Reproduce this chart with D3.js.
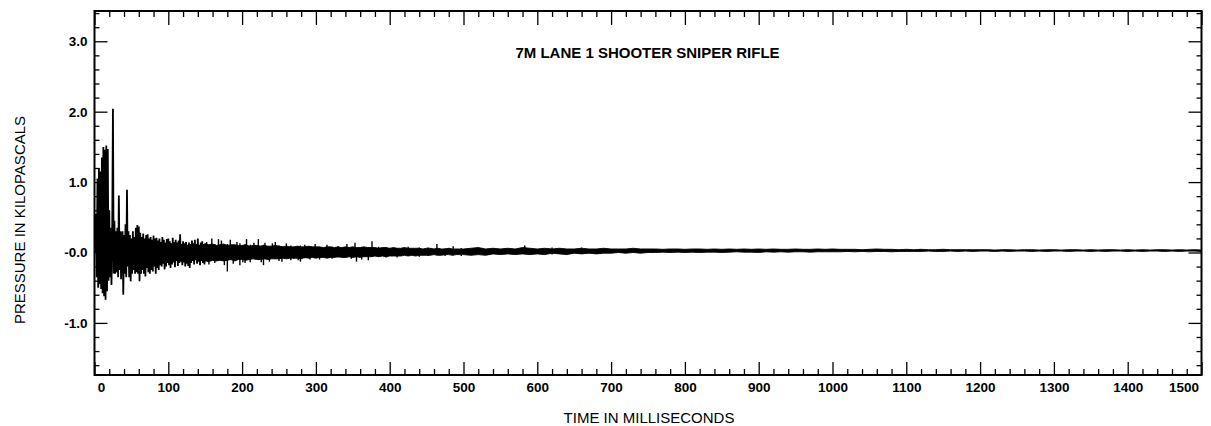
<!DOCTYPE html>
<html>
<head>
<meta charset="utf-8">
<script src="https://cdn.jsdelivr.net/npm/d3@7"></script>
<style>
  html, body { margin: 0; padding: 0; background: #fff; }
  svg { display: block; }
  text { font-family: "Liberation Sans", Arial, sans-serif; fill: #000; }
</style>
</head>
<body>
<svg id="chart" width="1211" height="426"></svg>
<script>
// ---- DATA ----
const chartTitle = "7M LANE 1 SHOOTER SNIPER RIFLE";
const xTitle = "TIME IN MILLISECONDS";
const yTitle = "PRESSURE IN KILOPASCALS";

const xTickValues = [0,100,200,300,400,500,600,700,800,900,1000,1100,1200,1300,1400,1500];
const xTickLabels = ["0","100","200","300","400","500","600","700","800","900","1000","1100","1200","1300","1400","1500"];
const yTickValues = [-1, 0, 1, 2, 3];
const yTickLabels = ["-1.0", "-0.0", "1.0", "2.0", "3.0"];

// early pressure trace (kPa): starts 0 ms, one sample every 1 ms
const traceStart = 0, traceStep = 1;
const traceValues = [
 0.00, 0.04, 0.55,-0.35, 1.05,-0.50, 1.20,-0.45, 1.15,-0.52,
 1.35,-0.58, 1.50,-0.62, 1.46,-0.67, 1.52,-0.55, 1.47,-0.40,
 0.60,-0.35, 0.35,-0.46, 0.30, 2.04,-0.30, 0.45,-0.30, 0.30,
-0.28, 0.35,-0.35, 0.81,-0.25, 0.30,-0.38, 0.25, 0.30,-0.60,
 0.25,-0.30, 0.40,-0.35, 0.89,-0.20, 0.30,-0.35, 0.25,-0.41,
 0.20,-0.30, 0.30,-0.25, 0.22,-0.30, 0.35,-0.28, 0.39,-0.30,
 0.37,-0.41, 0.28,-0.30, 0.22,-0.25, 0.27,-0.30, 0.20,-0.34,
 0.25,-0.22, 0.26,-0.28, 0.20,-0.30, 0.22,-0.25, 0.18,-0.27,
 0.24,-0.20, 0.20,-0.30, 0.21,-0.22, 0.17,-0.25, 0.20,-0.18,
 0.15,-0.20, 0.22,-0.16, 0.18,-0.24, 0.14,-0.20, 0.19,-0.15,
 0.20,-0.18, 0.16,-0.22, 0.13,-0.17, 0.21,-0.14, 0.15,-0.21,
 0.18,-0.12, 0.14,-0.19, 0.17,-0.15, 0.26,-0.13, 0.12,-0.18,
 0.16,-0.14, 0.13,-0.20, 0.15,-0.16, 0.11,-0.19, 0.14,-0.22,
 0.12,-0.15, 0.17,-0.12, 0.13,-0.17, 0.18,-0.11, 0.12,-0.16,
 0.20,-0.13, 0.11,-0.18, 0.14,-0.12, 0.16,-0.15, 0.12,-0.17,
 0.13
];

// later trace, dense core as min/max envelope (kPa): starts 150 ms, one bin every 5 ms
const envBStart = 150, envBStep = 5;
const envBUpper = [
 0.12, 0.11, 0.12, 0.10, 0.11, 0.12, 0.10, 0.11, 0.11, 0.10,
 0.10, 0.11, 0.09, 0.10, 0.10, 0.09, 0.10, 0.09, 0.09, 0.10,
 0.09, 0.08, 0.09, 0.08, 0.08, 0.09, 0.08, 0.08, 0.09, 0.08,
 0.08, 0.08, 0.07, 0.08, 0.08, 0.07, 0.08, 0.07, 0.08, 0.07,
 0.08, 0.07, 0.07, 0.08, 0.07, 0.07, 0.07, 0.06, 0.07, 0.07,
 0.06, 0.07, 0.06, 0.06, 0.07, 0.06, 0.06, 0.06, 0.06, 0.05,
 0.06, 0.06, 0.05, 0.06, 0.05, 0.05, 0.06, 0.05, 0.05, 0.05,
 0.05
];
const envBLower = [
-0.12,-0.13,-0.11,-0.12,-0.11,-0.12,-0.11,-0.10,-0.12,-0.10,
-0.10,-0.11,-0.10,-0.09,-0.10,-0.10,-0.09,-0.10,-0.09,-0.09,
-0.09,-0.08,-0.09,-0.08,-0.08,-0.08,-0.09,-0.07,-0.08,-0.07,
-0.08,-0.07,-0.07,-0.08,-0.07,-0.07,-0.06,-0.07,-0.07,-0.06,
-0.07,-0.06,-0.07,-0.06,-0.06,-0.06,-0.05,-0.06,-0.05,-0.06,
-0.05,-0.05,-0.05,-0.05,-0.04,-0.05,-0.04,-0.05,-0.04,-0.04,
-0.04,-0.04,-0.03,-0.04,-0.04,-0.03,-0.03,-0.04,-0.03,-0.03,
-0.03
];

// tail envelope (kPa): starts 510 ms, one bin every 10 ms
const envCStart = 510, envCStep = 10;
const envCUpper = [
 0.06, 0.07, 0.05, 0.06, 0.05, 0.06, 0.05, 0.07, 0.06, 0.05,
 0.06, 0.05, 0.06, 0.05, 0.05, 0.06, 0.05, 0.05, 0.06, 0.05,
 0.05, 0.05, 0.06, 0.05, 0.05, 0.05, 0.045,0.05, 0.05, 0.045,
 0.05, 0.05, 0.045,0.05, 0.045,0.05, 0.045,0.05, 0.045,0.05,
 0.045,0.05, 0.045,0.045,0.05, 0.045,0.045,0.05, 0.045,0.05,
 0.045,0.045,0.045,0.04, 0.045,0.05, 0.045,0.045,0.04, 0.045,
 0.04, 0.045,0.04, 0.04, 0.045,0.04, 0.04, 0.04, 0.04, 0.04,
 0.04, 0.035,0.04, 0.04, 0.035,0.04, 0.04, 0.035,0.04, 0.04,
 0.035,0.04, 0.04, 0.035,0.04, 0.035,0.04, 0.04, 0.035,0.04,
 0.035,0.04, 0.035,0.04, 0.04, 0.035,0.04, 0.035,0.04, 0.035
];
const envCLower = [
-0.04,-0.03,-0.04,-0.02,-0.03,-0.02,-0.03,-0.02,-0.03,-0.02,
-0.03,-0.01,-0.02,-0.03,-0.01,-0.02,-0.01,-0.02,-0.01,-0.01,
 0.00,-0.01, 0.00,-0.01, 0.00, 0.00, 0.005,0.00, 0.005,0.00,
 0.005,0.00, 0.005,0.005,0.00, 0.005,0.01, 0.005,0.005,0.00,
 0.01, 0.005,0.01, 0.005,0.01, 0.01, 0.005,0.01, 0.01, 0.01,
 0.01, 0.015,0.01, 0.015,0.01, 0.015,0.015,0.01, 0.015,0.015,
 0.015,0.015,0.02, 0.015,0.015,0.02, 0.015,0.02, 0.015,0.02,
 0.02, 0.015,0.02, 0.015,0.02, 0.02, 0.015,0.02, 0.015,0.02,
 0.02, 0.015,0.02, 0.02, 0.015,0.02, 0.015,0.02, 0.02, 0.015,
 0.02, 0.015,0.02, 0.02, 0.015,0.02, 0.015,0.02, 0.02, 0.015
];

// isolated excursions beyond the dense core (ms, kPa max, kPa min)
const spikeTimes = [152,155,159,163,168,172,176,180,184,188,193,197,201,204,206,211,216,222,226,229,
  231,237,241,245,250,254,260,266,270,276,279,285,292,299,305,315,322,330,342,348,
  353,355,362,371,376,385,395,410,425,440,452,464,475,486,497,583,620,660];
const spikeHigh = [0.15,0.10,0.20,0.12,0.19,0.17,0.10,0.12,0.18,0.09,0.15,0.13,0.10,0.12,0.19,0.11,0.14,0.19,0.10,0.11,
  0.14,0.09,0.13,0.15,0.10,0.09,0.13,0.10,0.07,0.09,0.10,0.11,0.08,0.12,0.07,0.11,0.08,0.09,0.12,0.07,
  0.14,0.06,0.08,0.07,0.16,0.08,0.07,0.06,0.08,0.07,0.07,0.12,0.06,0.09,0.06,0.10,0.07,0.07];
const spikeLow = [-0.12,-0.17,-0.10,-0.15,-0.08,-0.12,-0.18,-0.27,-0.10,-0.16,-0.08,-0.18,-0.14,-0.15,-0.09,-0.14,-0.08,-0.10,-0.14,-0.18,
  -0.08,-0.13,-0.08,-0.09,-0.12,-0.13,-0.08,-0.11,-0.09,-0.11,-0.13,-0.08,-0.10,-0.07,-0.10,-0.07,-0.09,-0.07,-0.07,-0.09,
  -0.06,-0.13,-0.10,-0.11,-0.06,-0.06,-0.07,-0.07,-0.05,-0.06,-0.05,-0.04,-0.05,-0.04,-0.05,-0.01,-0.03,-0.02];

// ---- LAYOUT ----
const svg = d3.select("#chart");
const plot = { left: 94.5, right: 1201.5, top: 11, bottom: 375 };

const x = d3.scaleLinear().domain([0, 1500]).range([plot.left, plot.right]);
const y = d3.scaleLinear().domain([-1.74, 3.43]).range([plot.bottom, plot.top]);

const trace = traceValues.map((v, i) => ({ t: traceStart + i * traceStep, p: v }));
const envelope = [];
envBUpper.forEach((u, i) => envelope.push({ t: envBStart + i * envBStep, hi: u, lo: envBLower[i] }));
envCUpper.forEach((u, i) => envelope.push({ t: envCStart + i * envCStep, hi: u, lo: envCLower[i] }));
const spikes = spikeTimes.map((t, i) => ({ t, hi: spikeHigh[i], lo: spikeLow[i] }));

// envelope band
svg.append("path")
  .datum(envelope)
  .attr("fill", "#000")
  .attr("stroke", "#000")
  .attr("stroke-width", 0.9)
  .attr("d", d3.area().x(d => x(d.t)).y0(d => y(d.lo)).y1(d => y(d.hi)));

// excursions
svg.append("g").selectAll("line").data(spikes).join("line")
  .attr("x1", d => x(d.t)).attr("x2", d => x(d.t))
  .attr("y1", d => y(d.hi)).attr("y2", d => y(d.lo))
  .attr("stroke", "#000").attr("stroke-width", 1.4);

// early trace
svg.append("path")
  .datum(trace)
  .attr("fill", "none")
  .attr("stroke", "#000")
  .attr("stroke-width", 1.8)
  .attr("d", d3.line().x(d => x(d.t)).y(d => y(d.p)));

// minor tick values (axis decoration)
const xMinor = d3.range(0, 1501, 20).filter(v => v % 100 !== 0);
const yMinor = d3.range(-16, 35, 2).map(v => v / 10).filter(v => Math.abs(v - Math.round(v)) > 1e-6);

function styleAxis(g) {
  g.select(".domain").remove();
  g.selectAll(".tick line").attr("stroke", "#000").attr("stroke-width", 1.3);
}

// bottom
const gB = svg.append("g").attr("transform", `translate(0,${plot.bottom})`)
  .call(d3.axisBottom(x).tickValues(xTickValues).tickSizeInner(-13).tickSizeOuter(0).tickPadding(7.5)
    .tickFormat((d, i) => xTickLabels[i]));
styleAxis(gB);
gB.selectAll(".tick text").attr("font-size", 13.5).attr("font-weight", "bold")
  .attr("font-family", "'Liberation Sans', Arial, sans-serif")
  .attr("dx", (d, i) => i === 0 ? 6.5 : (i === xTickValues.length - 1 ? -18 : 0));
const gBm = svg.append("g").attr("transform", `translate(0,${plot.bottom})`)
  .call(d3.axisBottom(x).tickValues(xMinor).tickSizeInner(-6).tickSizeOuter(0).tickFormat(""));
styleAxis(gBm);

// top
const gT = svg.append("g").attr("transform", `translate(0,${plot.top})`)
  .call(d3.axisTop(x).tickValues(xTickValues).tickSizeInner(-14).tickSizeOuter(0).tickFormat(""));
styleAxis(gT);
const gTm = svg.append("g").attr("transform", `translate(0,${plot.top})`)
  .call(d3.axisTop(x).tickValues(xMinor).tickSizeInner(-6).tickSizeOuter(0).tickFormat(""));
styleAxis(gTm);

// left
const gL = svg.append("g").attr("transform", `translate(${plot.left},0)`)
  .call(d3.axisLeft(y).tickValues(yTickValues).tickSizeInner(-13).tickSizeOuter(0).tickPadding(7)
    .tickFormat((d, i) => yTickLabels[i]));
styleAxis(gL);
gL.selectAll(".tick text").attr("font-size", 13.5).attr("font-weight", "bold")
  .attr("font-family", "'Liberation Sans', Arial, sans-serif");
const gLm = svg.append("g").attr("transform", `translate(${plot.left},0)`)
  .call(d3.axisLeft(y).tickValues(yMinor).tickSizeInner(-5).tickSizeOuter(0).tickFormat(""));
styleAxis(gLm);

// right
const gR = svg.append("g").attr("transform", `translate(${plot.right},0)`)
  .call(d3.axisRight(y).tickValues(yTickValues).tickSizeInner(-13).tickSizeOuter(0).tickFormat(""));
styleAxis(gR);
const gRm = svg.append("g").attr("transform", `translate(${plot.right},0)`)
  .call(d3.axisRight(y).tickValues(yMinor).tickSizeInner(-5).tickSizeOuter(0).tickFormat(""));
styleAxis(gRm);

// frame
svg.append("rect")
  .attr("x", plot.left).attr("y", plot.top)
  .attr("width", plot.right - plot.left).attr("height", plot.bottom - plot.top)
  .attr("fill", "none").attr("stroke", "#000").attr("stroke-width", 2);

// title
svg.append("text")
  .attr("x", 647.5).attr("y", 58)
  .attr("text-anchor", "middle")
  .attr("font-size", 15).attr("font-weight", "bold")
  .text(chartTitle);

// axis titles
svg.append("text")
  .attr("x", 649).attr("y", 423)
  .attr("text-anchor", "middle")
  .attr("font-size", 15)
  .text(xTitle);

svg.append("text")
  .attr("transform", "translate(24.5,220) rotate(-90)")
  .attr("text-anchor", "middle")
  .attr("font-size", 15)
  .text(yTitle);
</script>
</body>
</html>
